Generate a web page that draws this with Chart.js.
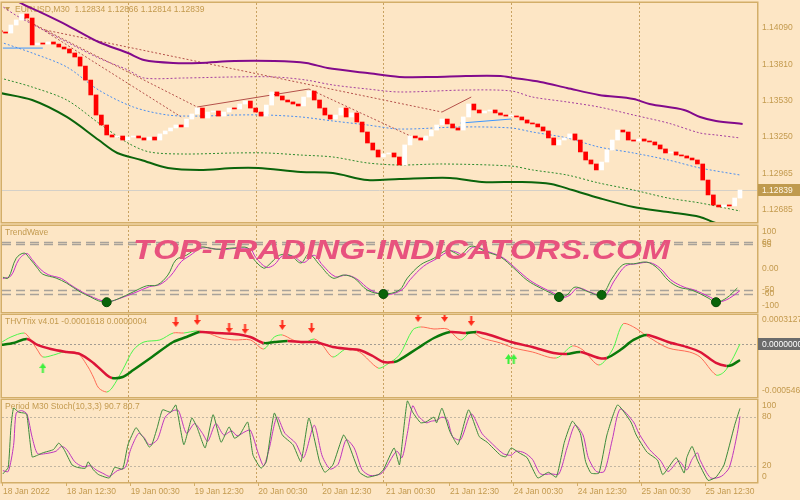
<!DOCTYPE html>
<html>
<head>
<meta charset="utf-8">
<script src="https://cdn.jsdelivr.net/npm/chart.js@4.4.1/dist/chart.umd.min.js"></script>
<style>
html, body { margin: 0; padding: 0; background: #FDE6C5; }
#wrap { position: relative; width: 800px; height: 500px; overflow: hidden; background: #FDE6C5; }
canvas { position: absolute; left: 0; }
#wm { position: absolute; left: 133px; top: 234px; font: italic bold 28px 'Liberation Sans', Arial, sans-serif;
      color: #E8527E; white-space: nowrap; transform-origin: 0 0; pointer-events: none; z-index: 5; }
</style>
</head>
<body>
<div id="wrap">
  <canvas id="p1" width="800" height="224" style="top:0"></canvas>
  <canvas id="p2" width="800" height="89" style="top:224px"></canvas>
  <canvas id="p3" width="800" height="85" style="top:313px"></canvas>
  <canvas id="p4" width="800" height="102" style="top:398px"></canvas>
  <div id="wm">TOP-TRADING-INDICATORS.COM</div>
</div>
<script>
// EURUSD M30, 18 Jan 2022 - 25 Jan 2022, x values are M30 bar numbers from 18 Jan 00:00

// closes, one candle every 2 bars
var candleStep = 2;
var firstOpen = 1.14070;
var closes = [
  1.14059, 1.14051, 1.14113, 1.14152, 1.14198, 1.14167, 1.13959, 1.13974, 1.13966, 1.13982,
  1.13966, 1.13943, 1.13928, 1.13897, 1.13866, 1.13796, 1.13688, 1.13573, 1.13418, 1.13341,
  1.13264, 1.13248, 1.13256, 1.13225, 1.13248, 1.13256, 1.13241, 1.13225, 1.13248, 1.13225,
  1.13272, 1.13295, 1.13318, 1.13341, 1.13326, 1.13387, 1.13426, 1.13472, 1.13395, 1.13441,
  1.13449, 1.13410, 1.13441, 1.13472, 1.13465, 1.13503, 1.13526, 1.13472, 1.13441, 1.13410,
  1.13495, 1.13596, 1.13565, 1.13534, 1.13519, 1.13503, 1.13488, 1.13557, 1.13603, 1.13534,
  1.13472, 1.13418, 1.13387, 1.13418, 1.13472, 1.13403, 1.13434, 1.13364, 1.13287, 1.13202,
  1.13148, 1.13094, 1.13117, 1.13125, 1.13094, 1.13032, 1.13187, 1.13256, 1.13241, 1.13225,
  1.13256, 1.13302, 1.13341, 1.13387, 1.13349, 1.13318, 1.13302, 1.13403, 1.13503, 1.13457,
  1.13434, 1.13449, 1.13457, 1.13434, 1.13418, 1.13410, 1.13410, 1.13403, 1.13380, 1.13356,
  1.13349, 1.13326, 1.13295, 1.13241, 1.13187, 1.13225, 1.13241, 1.13272, 1.13225, 1.13133,
  1.13071, 1.13040, 1.12994, 1.13055, 1.13148, 1.13225, 1.13302, 1.13287, 1.13225, 1.13217,
  1.13233, 1.13217, 1.13210, 1.13187, 1.13156, 1.13125, 1.13133, 1.13109, 1.13102, 1.13086,
  1.13071, 1.13040, 1.12916, 1.12801, 1.12723, 1.12708, 1.12723, 1.12716, 1.12777, 1.12839
];
var bidPrice = 1.12839;

// envelope lines on the price pane [bar, price]
var purpleBand = [[5,1.14345],[7,1.14291],[15,1.14213],[25,1.14113],[37,1.13982],[48,1.13897],[54,1.13843],[65,1.13820],[75,1.13820],[88,1.13835],[103,1.13835],[115,1.13820],[123,1.13781],[138,1.13742],[150,1.13712],[163,1.13712],[175,1.13719],[188,1.13719],[193,1.13704],[203,1.13673],[213,1.13627],[225,1.13573],[238,1.13542],[244,1.13503],[257,1.13457],[263,1.13403],[269,1.13372],[279,1.13349]];
var purpleDotted = [[0,1.14267],[7,1.14175],[25,1.13982],[37,1.13858],[48,1.13766],[54,1.13704],[69,1.13704],[88,1.13712],[103,1.13712],[115,1.13688],[125,1.13650],[138,1.13619],[150,1.13596],[175,1.13611],[192,1.13604],[200,1.13557],[213,1.13519],[225,1.13480],[238,1.13418],[251,1.13356],[263,1.13279],[269,1.13264],[278,1.13241]];
var blueMid = [[0,1.13982],[12,1.13897],[25,1.13789],[37,1.13611],[50,1.13480],[63,1.13418],[75,1.13410],[88,1.13418],[100,1.13418],[113,1.13403],[125,1.13372],[138,1.13341],[150,1.13310],[173,1.13326],[192,1.13318],[200,1.13287],[213,1.13241],[225,1.13171],[238,1.13125],[251,1.13071],[263,1.13009],[278,1.12955]];
var greenDotted = [[0,1.13704],[12,1.13634],[25,1.13534],[37,1.13356],[48,1.13202],[56,1.13133],[69,1.13117],[88,1.13125],[100,1.13125],[113,1.13109],[125,1.13094],[138,1.13048],[150,1.13032],[166,1.13040],[192,1.13024],[200,1.12994],[213,1.12955],[225,1.12893],[238,1.12839],[251,1.12777],[263,1.12739],[278,1.12677]];
var greenBand = [[0,1.13588],[12,1.13534],[25,1.13403],[37,1.13225],[44,1.13125],[53,1.13071],[63,1.13009],[75,1.12994],[88,1.13009],[97,1.13009],[113,1.12978],[125,1.12970],[138,1.12916],[150,1.12924],[169,1.12932],[181,1.12901],[196,1.12901],[207,1.12886],[215,1.12839],[225,1.12777],[238,1.12708],[251,1.12669],[263,1.12631],[269,1.12584],[274,1.12584]];

// fractal trend lines
var fractalDotted = [
  [[9,1.14167],[68,1.13403]],
  [[11,1.14136],[74,1.13480]],
  [[17,1.14074],[166,1.13441]],
  [[116,1.13619],[155,1.13248]]
];
var fractalSolid = [
  [[74,1.13480],[116,1.13619]],
  [[166,1.13441],[177,1.13557]]
];
var blueSegments = [
  [[1,1.13935],[16,1.13935]],
  [[173,1.13356],[192,1.13387]]
];

// TrendWave
var waveFast = [[1,-21],[3,-23],[6,23],[9,35],[11,23],[14,0],[16,-14],[21,-23],[25,-35],[30,-55],[34,-67],[37,-76],[40,-79],[44,-72],[50,-55],[55,-41],[59,-39],[63,-16],[66,19],[70,30],[75,49],[81,44],[88,47],[93,47],[95,23],[99,0],[101,8],[105,30],[109,30],[113,12],[116,33],[120,8],[125,-23],[129,-16],[133,-23],[138,-51],[144,-60],[150,-51],[153,-23],[158,8],[163,23],[168,42],[171,35],[173,30],[177,51],[183,37],[188,26],[193,0],[198,-28],[203,-46],[207,-58],[210,-67],[213,-62],[216,-44],[221,-55],[226,-62],[230,-23],[234,8],[238,10],[243,14],[247,0],[251,-28],[255,-44],[260,-51],[266,-69],[269,-79],[273,-69],[277,-46]];
var waveSlow = [[1,-24],[4,-18],[7,20],[10,34],[12,20],[15,-2],[18,-15],[23,-24],[26,-37],[31,-56],[35,-68],[39,-77],[41,-78],[45,-70],[51,-56],[56,-43],[60,-38],[64,-18],[68,15],[71,28],[76,47],[83,43],[89,46],[94,44],[96,25],[100,2],[103,8],[106,28],[110,28],[114,13],[118,30],[121,8],[126,-20],[130,-16],[134,-25],[139,-50],[145,-62],[151,-50],[154,-27],[159,4],[164,22],[169,40],[172,36],[174,30],[178,49],[184,37],[189,24],[194,-2],[199,-28],[204,-46],[208,-58],[211,-68],[214,-63],[217,-46],[222,-56],[227,-64],[231,-27],[235,5],[239,10],[244,13],[248,0],[252,-27],[257,-44],[261,-51],[267,-68],[270,-78],[274,-70],[278,-52]];
var waveDots = [[40,-79],[144,-60],[210,-67],[226,-62],[269,-79]];
var waveLevels = [60, 55, -50, -60];

// THVTrix
var trixSignal = [[0,-0.14e-4],[5,0.06e-4],[10,0.47e-4],[14,-0.14e-4],[19,-0.55e-4],[25,-0.86e-4],[30,-1.07e-4],[35,-1.98e-4],[40,-3.21e-4],[42,-3.52e-4],[46,-3.42e-4],[50,-2.70e-4],[57,-1.37e-4],[65,0.16e-4],[70,0.67e-4],[75,1.18e-4],[81,1.08e-4],[88,0.98e-4],[94,0.67e-4],[99,0.06e-4],[103,0.16e-4],[108,0.26e-4],[113,0.16e-4],[118,0.16e-4],[120,0.06e-4],[125,-0.35e-4],[131,-0.55e-4],[135,-0.66e-4],[140,-1.27e-4],[144,-1.88e-4],[148,-1.88e-4],[150,-1.68e-4],[157,-0.45e-4],[163,0.57e-4],[169,1.18e-4],[175,1.08e-4],[179,1.18e-4],[184,0.88e-4],[192,0.16e-4],[200,-0.35e-4],[208,-0.96e-4],[213,-1.07e-4],[218,-0.86e-4],[225,-1.47e-4],[228,-1.47e-4],[233,-0.66e-4],[238,0.37e-4],[243,0.88e-4],[251,0.16e-4],[258,-0.35e-4],[263,-0.86e-4],[269,-1.98e-4],[273,-2.29e-4],[275,-2.19e-4],[278,-1.68e-4]];
var trixFast = [[0,0.06e-4],[4,0.67e-4],[9,1.08e-4],[11,0.57e-4],[14,-0.66e-4],[16,-1.37e-4],[20,-1.17e-4],[24,-0.86e-4],[29,-0.96e-4],[33,-2.39e-4],[35,-3.42e-4],[37,-4.54e-4],[40,-4.95e-4],[42,-4.54e-4],[46,-2.70e-4],[50,-0.66e-4],[54,0.16e-4],[60,0.37e-4],[65,1.08e-4],[69,1.08e-4],[74,1.29e-4],[78,1.08e-4],[83,0.57e-4],[88,0.37e-4],[94,0.37e-4],[99,-0.55e-4],[103,0.67e-4],[106,0.88e-4],[110,0.37e-4],[114,0.06e-4],[118,0.47e-4],[121,-0.14e-4],[125,-1.37e-4],[130,-0.55e-4],[135,-0.86e-4],[142,-2.50e-4],[145,-2.19e-4],[150,-1.17e-4],[155,1.39e-4],[158,1.70e-4],[163,1.49e-4],[168,1.49e-4],[173,0.37e-4],[177,1.18e-4],[181,0.57e-4],[188,0.06e-4],[193,-0.45e-4],[200,-0.86e-4],[209,-1.47e-4],[215,-0.25e-4],[219,-0.66e-4],[225,-2.19e-4],[230,-0.66e-4],[234,2.00e-4],[238,1.70e-4],[243,0.78e-4],[251,-0.45e-4],[259,-0.86e-4],[263,-1.37e-4],[269,-3.21e-4],[272,-2.91e-4],[275,-1.68e-4],[278,-0.04e-4]];
var trixSell = [[66,2.21e-4],[74,2.41e-4],[86,1.59e-4],[92,1.49e-4],[106,1.90e-4],[117,1.59e-4],[157,2.72e-4],[167,2.72e-4],[177,2.31e-4]];
var trixBuy = [[16,-2.50e-4],[191,-1.58e-4],[193,-1.58e-4]];

// Stochastic (10,3,3)
var stochMain = [[1,10],[3,18],[4,67],[5,91],[7,86],[9,85],[10,83],[12,31],[14,33],[16,36],[20,40],[22,48],[24,40],[27,21],[29,18],[32,17],[33,25],[35,15],[37,9],[41,5],[43,18],[46,16],[48,46],[51,67],[53,58],[54,54],[56,43],[57,46],[59,67],[61,89],[64,86],[66,95],[69,46],[72,79],[74,67],[77,42],[80,83],[83,49],[86,68],[88,54],[90,58],[93,74],[95,33],[98,17],[100,25],[103,85],[106,58],[110,46],[113,25],[116,79],[120,25],[122,12],[125,21],[129,58],[131,46],[135,12],[138,6],[142,9],[144,15],[148,42],[150,21],[151,46],[153,100],[155,86],[158,73],[160,74],[163,80],[164,73],[166,91],[169,62],[172,46],[176,89],[180,56],[183,49],[188,33],[190,31],[192,42],[195,36],[198,30],[202,5],[206,12],[209,6],[212,49],[215,75],[218,60],[220,25],[222,11],[225,11],[228,58],[232,95],[237,74],[239,58],[243,37],[247,27],[249,9],[254,30],[257,11],[258,30],[260,44],[262,27],[266,2],[269,6],[272,21],[276,70],[278,90.7]];
var stochSignal = [[1,14],[3,13],[5,45],[6,85],[8,88],[10,84],[12,55],[14,35],[17,35],[21,38],[23,44],[25,40],[28,25],[31,19],[34,20],[36,15],[39,10],[41,7],[44,14],[47,18],[49,40],[52,60],[54,55],[56,46],[59,52],[62,80],[65,88],[67,88],[70,60],[73,72],[76,60],[78,50],[81,72],[84,58],[87,63],[89,57],[92,62],[94,64],[97,35],[99,20],[101,40],[104,80],[107,60],[111,48],[114,30],[118,70],[121,32],[124,16],[127,22],[130,52],[133,42],[136,15],[139,8],[143,10],[145,18],[149,38],[151,30],[153,60],[155,94],[157,82],[160,73],[162,75],[164,76],[166,80],[168,77],[170,56],[173,52],[177,84],[181,60],[184,50],[189,35],[192,33],[194,38],[197,36],[200,28],[203,10],[207,10],[210,10],[213,42],[216,70],[219,58],[221,30],[224,13],[227,13],[230,52],[233,90],[238,74],[240,60],[244,40],[248,27],[251,13],[255,26],[258,15],[260,28],[262,36],[263,27],[267,5],[271,7],[274,18],[277,60],[278,80.7]];
var stochLevels = [80, 20];

// axes
var daySplits = [48, 96, 144, 192, 240];
var timeTickBars = [1, 25, 49, 73, 97, 121, 145, 169, 193, 217, 241, 265];
var timeLabels = ['18 Jan 2022', '18 Jan 12:30', '19 Jan 00:30', '19 Jan 12:30', '20 Jan 00:30', '20 Jan 12:30',
                  '21 Jan 00:30', '21 Jan 12:30', '24 Jan 00:30', '24 Jan 12:30', '25 Jan 00:30', '25 Jan 12:30'];
var priceTicks = [1.14090, 1.13810, 1.13530, 1.13250, 1.12965, 1.12685];
var waveTickLabels = ['100', '60', '55', '0.00', '-50', '-60', '-100'];
var trixTickLabels = ['0.0003127', '-0.0005461'];
var stochTickLabels = ['100', '80', '20', '0'];

var textColor = '#C39A4E';
var frameColor = '#D3AE69';
var gridColor = '#C8A261';
var xMin = 0.66, xMax = 284.4;

Chart.defaults.font.family = "'Liberation Sans', Arial, sans-serif";
Chart.defaults.font.size = 8.5;
Chart.defaults.color = textColor;

// candles as floating bars
var candles = closes.map(function (c, k) {
  return { x: k * candleStep, y: [k ? closes[k - 1] : firstOpen, c] };
});
var candleColors = candles.map(function (d) { return d.y[1] >= d.y[0] ? '#FFFFFF' : '#FF0000'; });

function line(data, color, width, dash, tension) {
  return { type: 'line', data: data, borderColor: color, borderWidth: width, borderDash: dash || [],
           pointRadius: 0, fill: false, tension: tension === undefined ? 0.3 : tension, order: 2 };
}

function arrowImg(color, up) {
  var c = document.createElement('canvas');
  c.width = 7; c.height = 10;
  var g = c.getContext('2d');
  g.fillStyle = color;
  g.beginPath();
  if (up) {
    g.moveTo(3.5, 0); g.lineTo(7, 5); g.lineTo(4.5, 5); g.lineTo(4.5, 10); g.lineTo(2.5, 10); g.lineTo(2.5, 5); g.lineTo(0, 5);
  } else {
    g.moveTo(2.5, 0); g.lineTo(4.5, 0); g.lineTo(4.5, 5); g.lineTo(7, 5); g.lineTo(3.5, 10); g.lineTo(0, 5); g.lineTo(2.5, 5);
  }
  g.closePath(); g.fill();
  return c;
}

// grid, level lines, pane titles, frame and value boxes
var panePlugin = {
  id: 'pane',
  beforeDatasetsDraw: function (chart, args, o) {
    if (!o || !o.title) return;
    var ctx = chart.ctx, a = chart.chartArea, x = chart.scales.x, y = chart.scales.y;
    ctx.save();
    ctx.beginPath(); ctx.rect(a.left, a.top, a.width, a.height); ctx.clip();
    ctx.lineWidth = 1; ctx.strokeStyle = gridColor; ctx.setLineDash([2, 2]);
    daySplits.forEach(function (b) {
      var px = Math.round(x.getPixelForValue(b)) + 0.5;
      ctx.beginPath(); ctx.moveTo(px, a.top); ctx.lineTo(px, a.bottom); ctx.stroke();
    });
    (o.levels || []).forEach(function (l) {
      ctx.strokeStyle = l.color; ctx.lineWidth = l.width || 1; ctx.setLineDash(l.dash || []);
      var py = Math.round(y.getPixelForValue(l.value)) + 0.5;
      ctx.beginPath(); ctx.moveTo(a.left, py); ctx.lineTo(a.right, py); ctx.stroke();
    });
    ctx.setLineDash([]);
    ctx.font = "8.5px 'Liberation Sans', Arial, sans-serif";
    ctx.fillStyle = textColor; ctx.textBaseline = 'middle'; ctx.textAlign = 'left';
    if (o.marker) {
      ctx.beginPath(); ctx.moveTo(a.left + 3, a.top + 4); ctx.lineTo(a.left + 8, a.top + 4); ctx.lineTo(a.left + 5.5, a.top + 8); ctx.closePath(); ctx.fill();
    }
    ctx.fillText(o.title, a.left + (o.marker ? 13 : 3), a.top + 7);
    ctx.restore();
  },
  afterDraw: function (chart, args, o) {
    if (!o || !o.title) return;
    var ctx = chart.ctx, a = chart.chartArea, y = chart.scales.y;
    ctx.save();
    ctx.strokeStyle = frameColor; ctx.lineWidth = 1.5;
    ctx.strokeRect(a.left - 0.75, a.top - 0.75, a.width + 1.5, a.height + 1.5);
    ctx.font = "8.5px 'Liberation Sans', Arial, sans-serif";
    ctx.textBaseline = 'middle'; ctx.textAlign = 'left';
    (o.boxes || []).forEach(function (b) {
      var py = Math.round(y.getPixelForValue(b.value));
      ctx.fillStyle = b.bg; ctx.fillRect(a.right + 1, py - 6, 43, 12);
      ctx.fillStyle = b.fg; ctx.fillText(b.text, a.right + 5, py + 0.5);
    });
    ctx.restore();
  }
};
Chart.register(panePlugin);

function xAxis(show) {
  var ax = { type: 'linear', min: xMin, max: xMax, offset: false, display: show };
  if (show) {
    ax.position = 'bottom';
    ax.grid = { drawOnChartArea: false, drawTicks: true, tickLength: 4, color: frameColor };
    ax.border = { display: false };
    ax.ticks = { color: textColor, align: 'start', padding: 1, maxRotation: 0, autoSkip: false,
                 callback: function (v, i) { return timeLabels[i]; } };
    ax.afterBuildTicks = function (s) { s.ticks = timeTickBars.map(function (v) { return { value: v }; }); };
    ax.afterFit = function (s) { s.height = 18; s.paddingLeft = 0; s.paddingRight = 0; };
  }
  return ax;
}

function yAxis(min, max, tickValues, labels) {
  return {
    type: 'linear', position: 'right', min: min, max: max,
    grid: { display: false, drawTicks: false },
    border: { display: false },
    ticks: { color: textColor, padding: 5, autoSkip: false,
             callback: function (v, i) { return labels[i]; } },
    afterBuildTicks: function (s) { s.ticks = tickValues.map(function (v) { return { value: v }; }); },
    afterFit: function (s) { s.width = 43; s.paddingTop = 0; s.paddingBottom = 0; }
  };
}

function paneOptions(yCfg, showX, padding, pane) {
  return {
    responsive: false, animation: false, devicePixelRatio: 1,
    layout: { padding: padding, autoPadding: false },
    plugins: { legend: { display: false }, tooltip: { enabled: false }, pane: pane },
    scales: { x: xAxis(showX), y: yCfg }
  };
}

// price pane
var priceSets = [
  { type: 'bar', data: candles, backgroundColor: candleColors, barThickness: 4, minBarLength: 1, order: 0 },
  line(purpleBand, '#820A8C', 2),
  line(purpleDotted, '#A5409F', 1, [2, 2]),
  line(blueMid, '#4A8EF0', 1, [2, 2]),
  line(greenDotted, '#2E8B2E', 1, [2, 2]),
  line(greenBand, '#0B640B', 2)
];
fractalDotted.forEach(function (d) { priceSets.push(line(d, '#B4504A', 1, [2, 2], 0)); });
fractalSolid.forEach(function (d) { priceSets.push(line(d, '#B4504A', 1, [], 0)); });
blueSegments.forEach(function (d) { priceSets.push(line(d, '#3C96FF', 1, [], 0)); });

new Chart(document.getElementById('p1'), {
  type: 'line',
  data: { datasets: priceSets },
  options: paneOptions(
    yAxis(1.12592, 1.14283, priceTicks, priceTicks.map(function (v) { return v.toFixed(5); })),
    false, { top: 3, bottom: 2, left: 2, right: 0 },
    { title: 'EURUSD,M30  1.12834 1.12866 1.12814 1.12839', marker: true,
      levels: [{ value: bidPrice, color: '#D4D0C8', width: 1 }],
      boxes: [{ value: bidPrice, text: bidPrice.toFixed(5), bg: '#BF9A4E', fg: '#FFF6E6' }] })
});

// TrendWave pane
new Chart(document.getElementById('p2'), {
  type: 'line',
  data: { datasets: [
    { type: 'line', data: waveDots, showLine: false, pointRadius: 4.5, pointBackgroundColor: '#0A640A', pointBorderColor: '#064A06', order: 0 },
    line(waveFast, '#3E8E3E', 1, [], 0.35),
    line(waveSlow, '#C82EC8', 1, [], 0.35)
  ] },
  options: paneOptions(
    yAxis(-101.7, 97.8, [84.6, 60, 55, 0, -50, -60, -87], waveTickLabels),
    false, { top: 2, bottom: 1, left: 2, right: 0 },
    { title: 'TrendWave',
      levels: waveLevels.map(function (v) { return { value: v, color: '#A8A29A', width: 1.5, dash: [9, 5] }; }) })
});

// THVTrix pane
function dirColor(up, down) {
  return function (c) { return c.p1.parsed.y > c.p0.parsed.y ? up : down; };
}
var fastSet = line(trixFast, '#FF6A55', 1, [], 0.3);
fastSet.segment = { borderColor: dirColor('#4CF54C', '#FF6A55') };
var sigSet = line(trixSignal, '#DC1438', 2.5, [], 0.3);
sigSet.segment = { borderColor: dirColor('#0A780A', '#DC1438') };
sigSet.order = 1;

new Chart(document.getElementById('p3'), {
  type: 'line',
  data: { datasets: [
    { type: 'line', data: trixSell, showLine: false, pointStyle: arrowImg('#FF2A1A', false), pointRadius: 5, order: 0 },
    { type: 'line', data: trixBuy, showLine: false, pointStyle: arrowImg('#3CF03C', true), pointRadius: 5, order: 0 },
    sigSet,
    fastSet
  ] },
  options: paneOptions(
    yAxis(-5.46e-4, 2.92e-4, [2.41e-4, -4.85e-4], trixTickLabels),
    false, { top: 2, bottom: 1, left: 2, right: 0 },
    { title: 'THVTrix v4.01 -0.0001618 0.0000004',
      levels: [{ value: 0, color: '#A39C92', width: 1, dash: [2, 2] }],
      boxes: [{ value: 0, text: '0.0000000', bg: '#6B6B6B', fg: '#FFFFFF' }] })
});

// Stochastic pane
new Chart(document.getElementById('p4'), {
  type: 'line',
  data: { datasets: [
    line(stochMain, '#3B8A3B', 1, [], 0.15),
    line(stochSignal, '#BE36BE', 1, [], 0.25)
  ] },
  options: paneOptions(
    yAxis(0, 101.1, [94, 80, 20, 6], stochTickLabels),
    true, { top: 2, bottom: 0, left: 2, right: 0 },
    { title: 'Period M30 Stoch(10,3,3) 90.7 80.7',
      levels: stochLevels.map(function (v) { return { value: v, color: '#C2B6A2', width: 1, dash: [2, 2] }; }) })
});

// watermark width
var wm = document.getElementById('wm');
wm.style.transform = 'scaleX(' + (537 / wm.offsetWidth) + ')';
</script>
</body>
</html>
